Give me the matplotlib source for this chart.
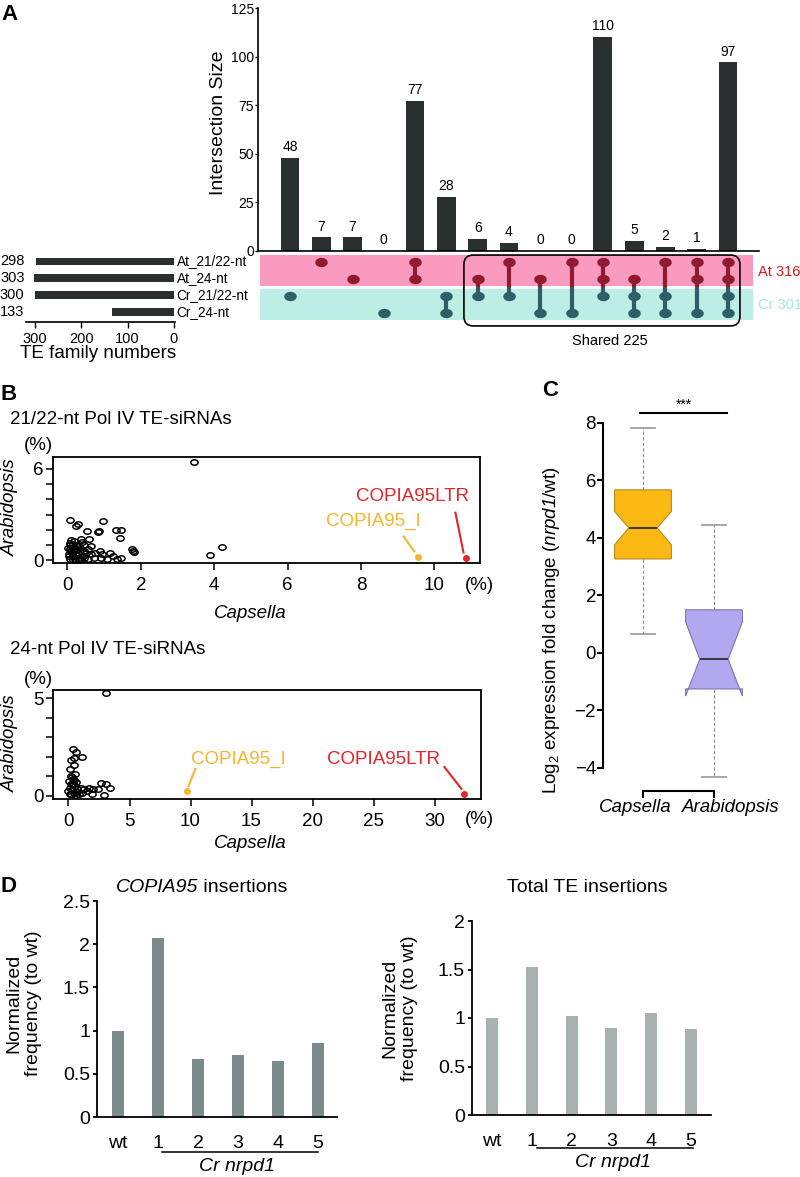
import numpy as np
import matplotlib
matplotlib.use("Agg")
import matplotlib.pyplot as plt
import matplotlib.transforms as mtransforms
from matplotlib.path import Path
from matplotlib.patches import FancyBboxPatch

W, H = 800, 1177

plt.rcParams['font.family'] = ['Liberation Sans', 'DejaVu Sans']
plt.rcParams['mathtext.fontset'] = 'custom'
plt.rcParams['mathtext.rm'] = 'Liberation Sans'
plt.rcParams['mathtext.it'] = 'Liberation Sans:italic'
# \mathbf is used as "italic incl. digits" (mathtext 'it' sets digits upright)
plt.rcParams['mathtext.bf'] = 'Liberation Sans:italic'
NARROW = ['Liberation Sans Narrow', 'Liberation Sans', 'DejaVu Sans']

# ---------------- data: panel A (UpSet) ----------------
set_names = ["At_21/22-nt", "At_24-nt", "Cr_21/22-nt", "Cr_24-nt"]
set_sizes = [298, 303, 300, 133]
inter_sizes = [48, 7, 7, 0, 77, 28, 6, 4, 0, 0, 110, 5, 2, 1, 97]
inter_members = [[2], [0], [1], [3], [0, 1], [2, 3], [1, 2], [0, 2], [1, 3],
                 [0, 3], [0, 1, 2], [1, 2, 3], [0, 2, 3], [0, 1, 3], [0, 1, 2, 3]]

# ---------------- data: panel B ----------------
b1_x = [0.07, 0.29, 0.24, 0.98, 0.53, 0.84, 0.87, 1.31, 1.45, 1.42,
        0.58, 0.37, 0.40, 0.10, 0.08, 0.06, 0.18, 0.25, 1.76, 1.79,
        1.81, 0.89, 1.17, 1.25, 1.47, 1.36, 1.07, 0.91, 0.73, 0.63,
        0.57, 0.51, 0.41, 0.32, 0.20, 0.08, 0.04, 0.12, 0.24, 0.35,
        0.44, 0.06, 0.16, 0.29, 0.46, 0.65, 0.76, 0.93, 0.37, 0.56,
        0.02, 0.16, 0.27, 0.15, 0.30, 0.45, 0.22, 0.10, 0.33, 0.14,
        0.05, 3.46, 3.89, 4.22]
b1_y = [2.67, 2.41, 2.24, 2.59, 1.91, 1.85, 1.96, 1.98, 2.02, 1.48,
        1.41, 1.41, 1.20, 1.37, 1.15, 1.00, 1.26, 1.04, 0.78, 0.63,
        0.52, 0.63, 0.48, 0.28, 0.17, 0.07, 0.11, 0.13, 0.13, 0.39,
        0.72, 0.46, 0.28, 0.17, 0.11, 0.07, 0.28, 0.50, 0.67, 0.83,
        0.98, 0.72, 0.87, 0.46, 0.61, 0.93, 0.50, 0.39, 0.07, 0.11,
        0.83, 0.28, 0.93, 0.05, 0.02, 0.15, 0.35, 0.60, 0.60, 1.10,
        0.45, 6.46, 0.33, 0.87]
b1_hl_x = [9.56, 10.85]
b1_hl_y = [0.20, 0.13]

b2_x = [3.05, 0.37, 0.62, 1.07, 0.23, 0.42, 0.14, 0.51, 0.28, 0.08,
        0.34, 0.14, 0.00, 0.42, 0.71, 0.56, 0.23, 0.85, 0.99, 1.27,
        1.69, 1.98, 1.13, 1.50, 1.92, 2.40, 2.68, 3.11, 3.39, 2.91,
        0.34, 0.62, 0.17, 0.48, 0.73, 0.10, 0.30, 0.60, 0.20, 0.45]
b2_y = [5.27, 2.40, 2.23, 2.00, 1.82, 1.94, 1.38, 1.11, 0.94, 0.76,
        0.58, 0.41, 0.23, 0.14, 0.32, 0.49, 0.09, 0.11, 0.41, 0.35,
        0.41, 0.32, 0.14, 0.23, 0.11, 0.32, 0.64, 0.58, 0.41, 0.05,
        0.85, 0.71, 0.58, 1.55, 0.19, 0.10, 0.30, 0.05, 1.00, 0.80]
b2_hl_x = [9.69, 32.4]
b2_hl_y = [0.24, 0.09]
hl_names = ["COPIA95_I", "COPIA95LTR"]

# ---------------- data: panel C ----------------
box_names = ["Capsella", "Arabidopsis"]
box_whislo = [0.65, -4.3]
box_q1 = [3.27, -1.25]
box_med = [4.35, -0.22]
box_q3 = [5.67, 1.50]
box_whishi = [7.83, 4.45]
box_cilo = [3.76, -1.50]
box_cihi = [4.92, 1.08]

# ---------------- data: panel D ----------------
genotypes = ["wt", "1", "2", "3", "4", "5"]
copia95_freq = [1.0, 2.07, 0.67, 0.72, 0.645, 0.855]
total_te_freq = [1.0, 1.53, 1.02, 0.90, 1.05, 0.89]

DARK = '#2a302f'
PINK = '#f99abe'
CYAN = '#bdeee5'
DOT_RED = '#8e1b2f'
DOT_TEAL = '#2f5f66'
ORANGE = '#f6b52c'
RED = '#e5232a'

fig = plt.figure(figsize=(W / 100, H / 100), dpi=100)


def px_axes(l, t, r, b):
    return fig.add_axes([l / W, 1 - b / H, (r - l) / W, (b - t) / H])


def ftext(x, y, s, **kw):
    kw.setdefault('ha', 'center')
    kw.setdefault('va', 'center')
    return fig.text(x / W, 1 - y / H, s, **kw)


theta = np.linspace(0, 2 * np.pi, 61)
ellipse = Path(np.column_stack([np.cos(theta), 0.75 * np.sin(theta)]), closed=True)

# ================= Panel A =================
cols = np.arange(len(inter_sizes))
axb = px_axes(258, 8, 759, 251)
axb.bar(cols, inter_sizes, width=0.6, color=DARK)
for c, v in zip(cols, inter_sizes):
    axb.text(c, v + 2, str(v), ha='center', va='bottom', fontsize=10, family=NARROW)
axb.set_xlim(-1.02, 14.99)
axb.set_ylim(0, 125)
axb.set_yticks([0, 25, 50, 75, 100, 125])
axb.set_xticks([])
axb.tick_params(axis='y', length=2, width=1, pad=1, labelsize=10)
for lbl in axb.get_yticklabels():
    lbl.set_family(NARROW)
for s in ['top', 'right']:
    axb.spines[s].set_visible(False)
axb.spines['left'].set_linewidth(1.2)
axb.spines['bottom'].set_linewidth(1.2)
ftext(218, 123, "Intersection Size", rotation=90, fontsize=14)

# matrix
axm = px_axes(258, 253, 759, 321)
axm.set_xlim(-1.02, 14.99)
axm.set_ylim(3.5, -0.5)
axm.axis('off')
axm.fill_between([-0.96, 14.8], -0.38, 1.44, color=PINK, lw=0)
axm.fill_between([-0.96, 14.8], 1.62, 3.44, color=CYAN, lw=0)
for c, rows in zip(cols, inter_members):
    lo, hi = min(rows), max(rows)
    if len(rows) > 1:
        if lo < 2:
            axm.plot([c, c], [lo, min(hi, 1.5)], color=DOT_RED, lw=3, solid_capstyle='butt')
        if hi >= 2:
            axm.plot([c, c], [max(lo, 1.5), hi], color=DOT_TEAL, lw=3, solid_capstyle='butt')
    for r in rows:
        axm.plot(c, r, marker=ellipse, ms=9, color=DOT_RED if r < 2 else DOT_TEAL, mew=0)
shared = FancyBboxPatch((5.56, -0.38), 14.38 - 5.56, 3.79 + 0.38,
                        boxstyle='round,pad=0,rounding_size=0.3',
                        mutation_aspect=31.3 / 17, fill=False, ec='black', lw=1.2,
                        clip_on=False)
axm.add_patch(shared)
ftext(610, 341, "Shared 225", fontsize=10.5)
ftext(758, 272, "At 316", fontsize=10.5, color='#d7191c', ha='left')
ftext(758, 305, "Cr 301", fontsize=10.5, color='#a5e6df', ha='left')

# set sizes
axs = px_axes(26, 253, 175, 322)
axs.barh(np.arange(4), set_sizes, height=0.47, color=DARK)
axs.set_xlim(319.4, -2.16)
axs.set_ylim(3.56, -0.5)
axs.set_yticks([])
axs.set_xticks([300, 200, 100, 0])
axs.tick_params(axis='x', length=4, width=1, pad=3, labelsize=10.5)
for s in ['top', 'right', 'left']:
    axs.spines[s].set_visible(False)
axs.spines['bottom'].set_linewidth(1.2)
blend = mtransforms.blended_transform_factory(axs.transAxes, axs.transData)
for r, (name, v) in enumerate(zip(set_names, set_sizes)):
    axs.text(-0.01, r, str(v), transform=blend, ha='right', va='center', fontsize=10.5)
    axs.text(1.01, r, name, transform=blend, ha='left', va='center', fontsize=9.8)
ftext(98, 353, "TE family numbers", fontsize=13.5)
ftext(10, 15, "A", fontsize=16, fontweight='bold', family=NARROW)


# ================= Panel B =================
def scatter_panel(ax, xs, ys, hx, hy, xlim, ylim, xticks, ylab_top, label_pos, line_pos):
    ax.plot(xs, ys, ls='none', marker=ellipse, ms=5.2, mfc='none', mec='black', mew=1.1)
    ax.plot(hx[0], hy[0], 'o', ms=5, color=ORANGE, mew=0)
    ax.plot(hx[1], hy[1], 'o', ms=5, color=RED, mew=0)
    for (tx, ty), (x0, y0, x1, y1), col, name in zip(label_pos, line_pos, [ORANGE, RED], hl_names):
        ax.text(tx, ty, name, color=col, fontsize=13.5, ha='center', va='center')
        ax.plot([x0, x1], [y0, y1], color=col, lw=1.5)
    ax.set_xlim(*xlim)
    ax.set_ylim(*ylim)
    ax.set_xticks(xticks)
    ax.set_yticks(range(ylab_top + 1))
    ax.set_yticklabels(['0'] + [''] * (ylab_top - 1) + [str(ylab_top)])
    ax.tick_params(axis='both', length=5, width=1.1, labelsize=13.5)
    ax.tick_params(axis='x', pad=5)
    ax.tick_params(axis='y', pad=2)
    for s in ax.spines.values():
        s.set_linewidth(1.3)


ax1 = px_axes(53, 457, 480, 563)
scatter_panel(ax1, b1_x, b1_y, b1_hl_x, b1_hl_y, (-0.395, 11.24), (-0.17, 6.78),
              [0, 2, 4, 6, 8, 10], 6,
              [(8.34, 2.54), (9.4, 4.17)],
              [(9.16, 1.57, 9.45, 0.59), (10.57, 3.13, 10.79, 0.52)])
ftext(9, 395, "B", fontsize=16, fontweight='bold')
ftext(10, 420, "21/22-nt Pol IV TE-siRNAs", fontsize=13.5, ha='left')
ftext(38, 446, "(%)", fontsize=13.5)
ftext(10, 507, "Arabidopsis", fontsize=13.5, style='italic', rotation=90)
ftext(250, 614, "Capsella", fontsize=13.5, style='italic')
ftext(479, 586, "(%)", fontsize=13.5)

ax2 = px_axes(53, 690, 481, 799)
scatter_panel(ax2, b2_x, b2_y, b2_hl_x, b2_hl_y, (-1.27, 33.8), (-0.17, 5.42),
              [0, 5, 10, 15, 20, 25, 30], 5,
              [(13.9, 1.88), (25.8, 1.88)],
              [(10.4, 1.38, 9.83, 0.49), (30.8, 1.47, 32.2, 0.35)])
ftext(10, 650, "24-nt Pol IV TE-siRNAs", fontsize=13.5, ha='left')
ftext(38, 679, "(%)", fontsize=13.5)
ftext(10, 743, "Arabidopsis", fontsize=13.5, style='italic', rotation=90)
ftext(250, 843, "Capsella", fontsize=13.5, style='italic')
ftext(479, 820, "(%)", fontsize=13.5)

# ================= Panel C =================
axc = px_axes(603, 397, 780, 791)
stats = []
for i in range(2):
    stats.append(dict(label=box_names[i], whislo=box_whislo[i], q1=box_q1[i], med=box_med[i],
                      q3=box_q3[i], whishi=box_whishi[i], cilo=box_cilo[i], cihi=box_cihi[i],
                      fliers=[]))
bp = axc.bxp(stats, positions=[1, 2], widths=0.8, capwidths=0.35, patch_artist=True,
             shownotches=True, showfliers=False,
             whiskerprops=dict(color='#8a8a8a', lw=0.8, linestyle=(0, (3, 2))),
             capprops=dict(color='#a0a0a0', lw=1.3),
             medianprops=dict(color='#222222', lw=1.2))
for patch, fc, ec in zip(bp['boxes'], ['#fdb913', '#b2a8f0'], ['#b8891c', '#7d73b5']):
    patch.set_facecolor(fc)
    patch.set_edgecolor(ec)
    patch.set_linewidth(0.8)
axc.set_xlim(0.437, 2.93)
axc.set_ylim(-4.8, 8.9)
axc.set_yticks([-4, -2, 0, 2, 4, 6, 8])
axc.set_xticks([1, 2])
axc.set_xticklabels(['', ''])
cblend = mtransforms.blended_transform_factory(axc.transData, axc.transAxes)
# category labels sit a little apart from their ticks, as in the original
for pos, name, shift in zip([1, 2], box_names, [-0.11, 0.24]):
    axc.text(pos + shift, -0.043, name, transform=cblend, style='italic', fontsize=13.5,
             ha='center', va='center')
axc.tick_params(axis='y', length=4, width=1.5, pad=1, labelsize=13.5)
axc.tick_params(axis='x', length=5, width=1.5, pad=2, labelsize=13.5)
for s in ['top', 'right']:
    axc.spines[s].set_visible(False)
axc.spines['left'].set_bounds(-4, 8)
axc.spines['bottom'].set_bounds(1, 2)
axc.spines['left'].set_linewidth(1.5)
axc.spines['bottom'].set_linewidth(1.5)
axc.plot([0.96, 2.18], [8.35, 8.35], color='black', lw=1.5, clip_on=False)
axc.text(1.58, 8.38, "***", ha='center', va='bottom', fontsize=10)
ftext(550, 390, "C", fontsize=16, fontweight='bold')
ftext(552, 630, r"Log$_2$ expression fold change ($\mathbf{nrpd1}$/wt)", fontsize=13.5, rotation=90)


# ================= Panel D =================
def bar_panel(ax, vals, color, ymax, yticks, yticklabels, line_x, line_y, lab_x, lab_y):
    x = np.arange(len(genotypes))
    ax.bar(x, vals, width=0.3, color=color)
    ax.set_xlim(-0.5, 5.5)
    ax.set_ylim(0, ymax)
    ax.set_xticks(x)
    ax.set_xticklabels(genotypes)
    ax.set_yticks(yticks)
    ax.set_yticklabels(yticklabels)
    ax.tick_params(axis='x', length=0, pad=13, labelsize=14)
    ax.tick_params(axis='y', length=3, width=1.3, pad=2, labelsize=14)
    for s in ['top', 'right']:
        ax.spines[s].set_visible(False)
    ax.spines['left'].set_linewidth(1.3)
    ax.spines['bottom'].set_linewidth(1.3)
    ax.plot(line_x, [line_y, line_y], color='black', lw=1.1, clip_on=False)
    ax.text(lab_x, lab_y, "Cr nrpd1", style='italic', fontsize=14, ha='center', va='center')


axd1 = px_axes(97, 901, 337, 1117)
bar_panel(axd1, copia95_freq, '#7b8b8a', 2.5, [0, 0.5, 1, 1.5, 2, 2.5],
          ['0', '0.5', '1', '1.5', '2', '2.5'], [1.1, 5.0], -0.405, 2.98, -0.57)
axd1.set_xlim(-0.525, 5.475)
ftext(8, 887, "D", fontsize=16, fontweight='bold')
ftext(198, 887, "COPIA95", fontsize=14, style='italic', ha='right')
ftext(198, 887, " insertions", fontsize=14, ha='left')
ftext(24, 1003, "Normalized\nfrequency (to wt)", fontsize=14, rotation=90, linespacing=1.2)

axd2 = px_axes(472, 921, 711, 1115)
bar_panel(axd2, total_te_freq, '#a8b3b1', 2, [0, 0.5, 1, 1.5, 2],
          ['0', '0.5', '1', '1.5', '2'], [1.13, 5.05], -0.34, 3.04, -0.485)
ftext(587, 888, "Total TE insertions", fontsize=14)
ftext(400, 1008, "Normalized\nfrequency (to wt)", fontsize=14, rotation=90, linespacing=1.2)

fig.savefig("out.png", dpi=100)
